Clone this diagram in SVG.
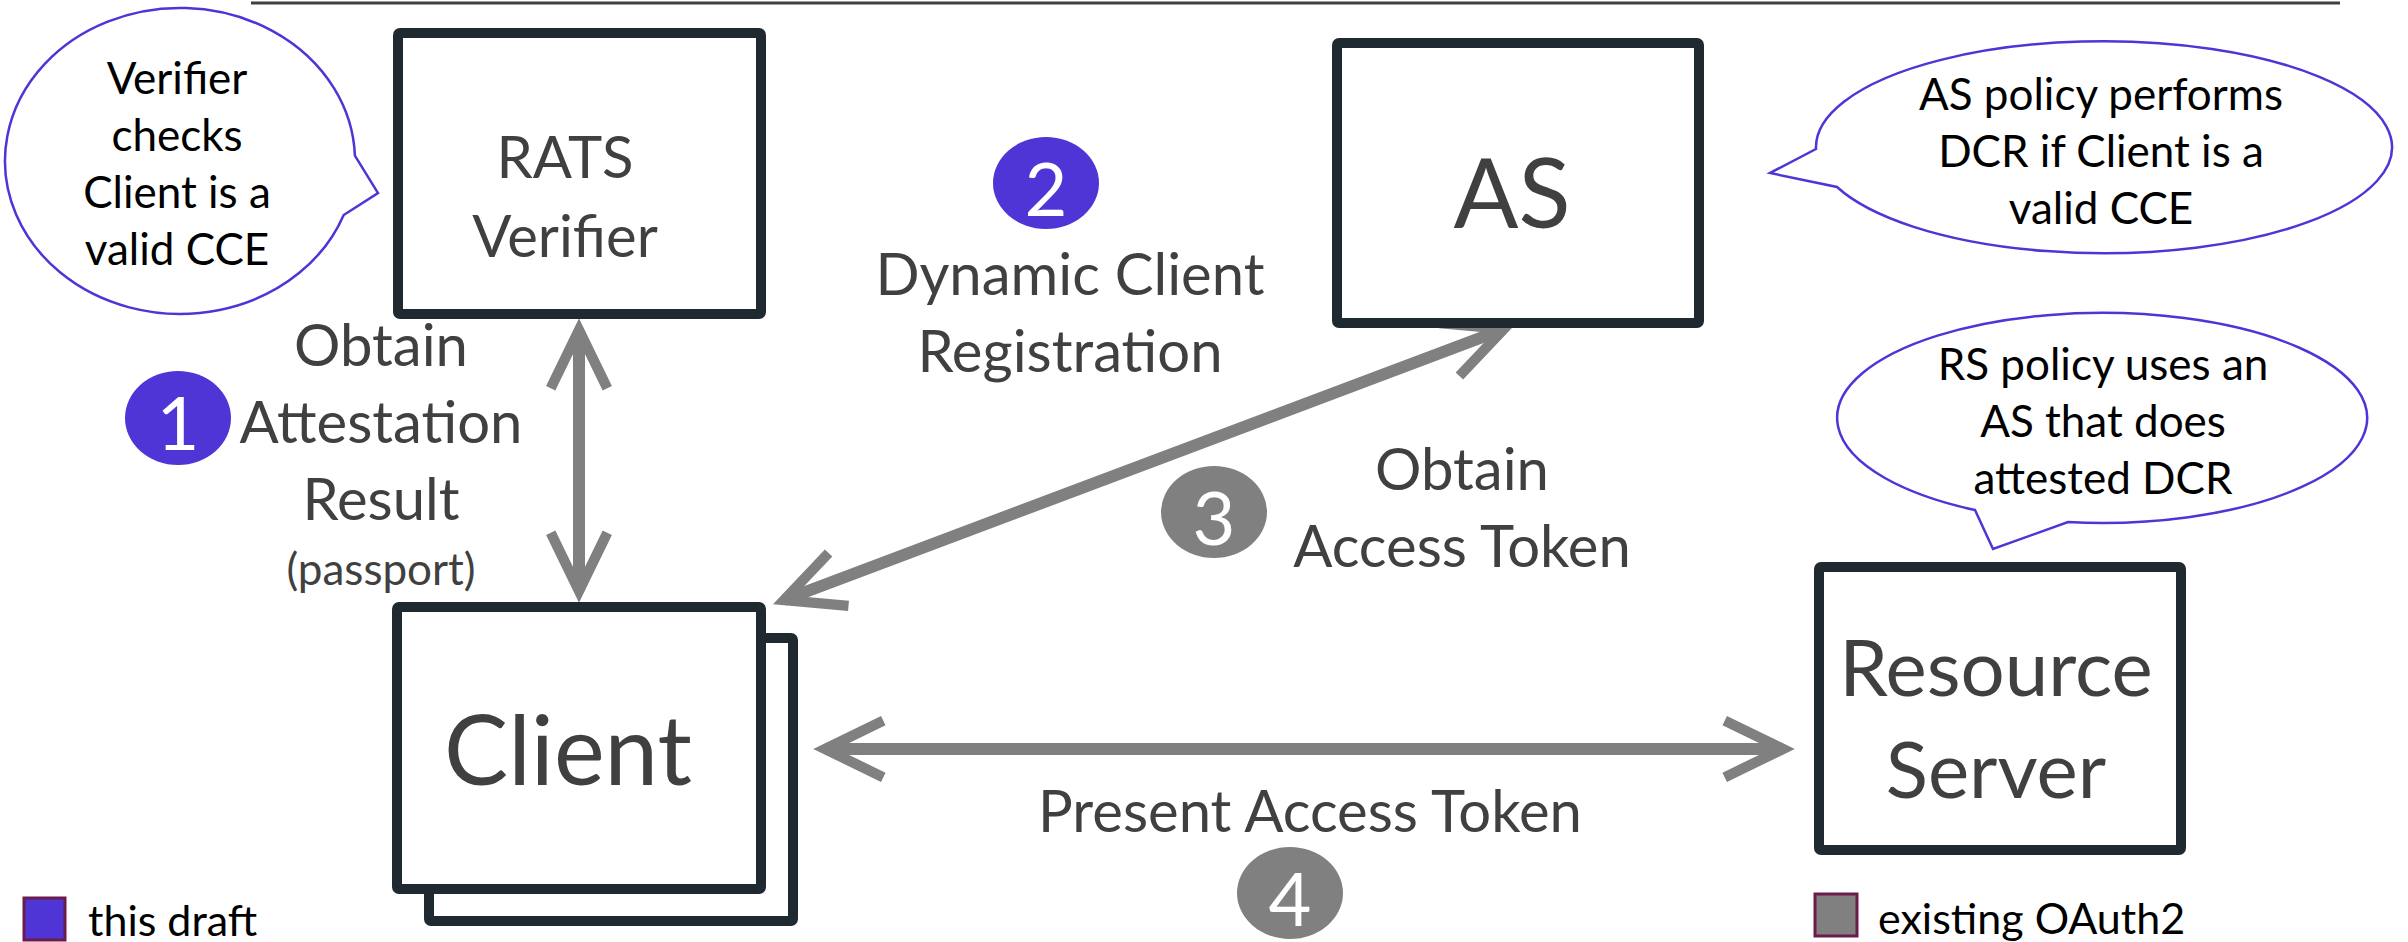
<svg xmlns="http://www.w3.org/2000/svg" width="2408" height="942" viewBox="0 0 2408 942">
  <style>
    .box { fill: #ffffff; stroke: #1e2930; stroke-width: 10; stroke-linejoin: round; }
    .lbl { font-family: Lato, "Liberation Sans", sans-serif; fill: #404040; text-anchor: middle; }
    .btxt { font-family: Lato, "Liberation Sans", sans-serif; fill: #000000; text-anchor: middle; font-size: 44px; }
    .bubble { fill: #ffffff; stroke: #4b36d6; stroke-width: 2.5; stroke-linejoin: miter; }
    .conn { stroke: #808080; stroke-width: 12; fill: none; marker-start: url(#head); marker-end: url(#head); }
    .num { font-family: Lato, "Liberation Sans", sans-serif; fill: #ffffff; text-anchor: middle; font-size: 74px; }
    .draft { fill: #4f35d6; }
    .oauth { fill: #808080; }
    .leg { font-family: Lato, "Liberation Sans", sans-serif; fill: #000000; font-size: 43px; }
  </style>
  <defs>
    <marker id="head" markerUnits="userSpaceOnUse" orient="auto-start-reverse" markerWidth="120" markerHeight="120" refX="0" refY="0" viewBox="-100 -60 140 120" overflow="visible">
      <path d="M -68 -33 L 0 0 L -68 33" fill="none" stroke="#808080" stroke-width="12" stroke-linejoin="miter" stroke-miterlimit="10"/>
    </marker>
  </defs>

  <rect width="2408" height="942" fill="#ffffff"/>
  <line x1="251" y1="3" x2="2340" y2="3" stroke="#404040" stroke-width="3"/>

  <g id="connectors">
    <line class="conn" x1="579" y1="330" x2="579" y2="591"/>
    <line class="conn" x1="784" y1="600" x2="1504" y2="329"/>
    <line class="conn" x1="825" y1="749" x2="1783" y2="749"/>
  </g>

  <g id="rats-verifier">
    <rect class="box" x="398" y="33" width="363" height="281" rx="2"/>
    <text class="lbl" x="565" y="178" font-size="58">RATS</text>
    <text class="lbl" x="565" y="257" font-size="58">Verifier</text>
  </g>

  <g id="as">
    <rect class="box" x="1337" y="43" width="362" height="280" rx="2"/>
    <text class="lbl" x="1512" y="228" font-size="96">AS</text>
  </g>

  <g id="client">
    <rect class="box" x="429" y="638" width="364" height="283" rx="2"/>
    <rect class="box" x="397" y="607" width="364" height="282" rx="2"/>
    <text class="lbl" x="568" y="785" font-size="96">Client</text>
  </g>

  <g id="resource-server">
    <rect class="box" x="1819" y="567" width="362" height="283" rx="2"/>
    <text class="lbl" x="1996" y="696" font-size="78">Resource</text>
    <text class="lbl" x="1996" y="798" font-size="78">Server</text>
  </g>

  <g id="bubble-verifier">
    <path class="bubble" d="M 354.9 155.7 L 378 193 L 343.7 215 A 175 153 0 1 1 354.9 155.7 Z"/>
    <text class="btxt" x="177" y="94" font-size="42">Verifier</text>
    <text class="btxt" x="177" y="151" font-size="42">checks</text>
    <text class="btxt" x="177" y="208" font-size="42">Client is a</text>
    <text class="btxt" x="177" y="265" font-size="42">valid CCE</text>
  </g>

  <g id="bubble-as">
    <path class="bubble" d="M 1816 149 L 1770 173 L 1837 187 A 288 106 0 1 0 1816 149 Z"/>
    <text class="btxt" x="2101" y="110">AS policy performs</text>
    <text class="btxt" x="2101" y="167">DCR if Client is a</text>
    <text class="btxt" x="2101" y="224">valid CCE</text>
  </g>

  <g id="bubble-rs">
    <path class="bubble" d="M 1975 510 L 1993 549 L 2068 522 A 265 105 0 1 0 1975 510 Z"/>
    <text class="btxt" x="2103" y="380">RS policy uses an</text>
    <text class="btxt" x="2103" y="437">AS that does</text>
    <text class="btxt" x="2103" y="494">attested DCR</text>
  </g>

  <g id="step1">
    <ellipse class="draft" cx="178" cy="418" rx="53" ry="47"/>
    <text class="num" x="178" y="450">1</text>
    <text class="lbl" x="381" y="366" font-size="58">Obtain</text>
    <text class="lbl" x="381" y="443" font-size="58">Attestation</text>
    <text class="lbl" x="381" y="520" font-size="58">Result</text>
    <text class="lbl" x="381" y="585" font-size="44">(passport)</text>
  </g>

  <g id="step2">
    <ellipse class="draft" cx="1046" cy="183" rx="53" ry="46"/>
    <text class="num" x="1046" y="216">2</text>
    <text class="lbl" x="1070" y="295" font-size="58">Dynamic Client</text>
    <text class="lbl" x="1070" y="372" font-size="58">Registration</text>
  </g>

  <g id="step3">
    <ellipse class="oauth" cx="1214" cy="512" rx="53" ry="46"/>
    <text class="num" x="1214" y="545">3</text>
    <text class="lbl" x="1462" y="490" font-size="58">Obtain</text>
    <text class="lbl" x="1462" y="567" font-size="58">Access Token</text>
  </g>

  <g id="step4">
    <ellipse class="oauth" cx="1290" cy="893" rx="53" ry="46"/>
    <text class="num" x="1290" y="926">4</text>
    <text class="lbl" x="1310" y="832" font-size="58">Present Access Token</text>
  </g>

  <g id="legend">
    <rect class="draft" x="24" y="898" width="41" height="42" stroke="#6b1c4a" stroke-width="3"/>
    <text class="leg" x="88" y="936">this draft</text>
    <rect class="oauth" x="1815" y="894" width="42" height="42" stroke="#6b1c4a" stroke-width="3"/>
    <text class="leg" x="1878" y="934">existing OAuth2</text>
  </g>
</svg>
